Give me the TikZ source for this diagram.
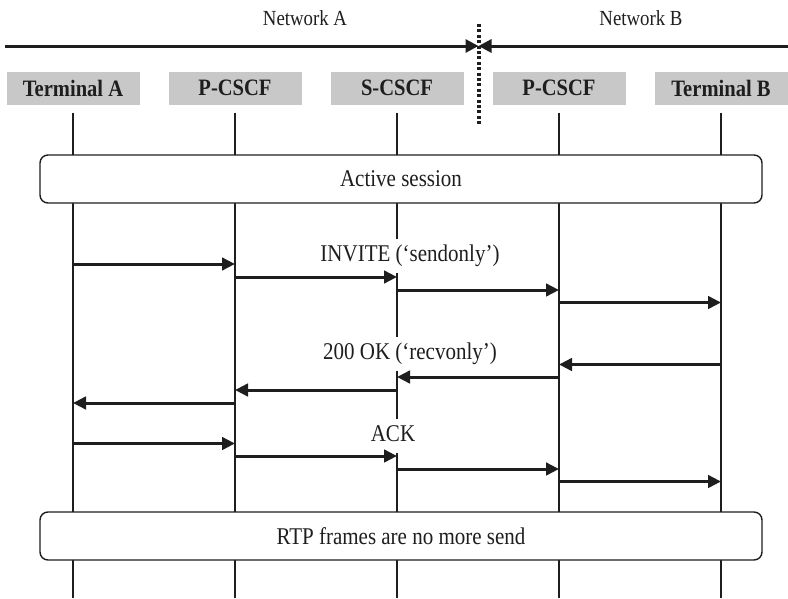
\documentclass[tikz,border=0pt]{standalone}
\usepackage{fontspec}
\setmainfont{Liberation Serif}[FakeStretch=0.875]
\usetikzlibrary{arrows.meta}
\definecolor{hdrgray}{RGB}{200,200,200}
\definecolor{inkc}{RGB}{30,30,30}
\tikzset{
  hdr/.style={fill=hdrgray, minimum width=133pt, minimum height=33pt, inner sep=0pt,
    font=\fontsize{23.5}{26}\selectfont\bfseries, text=inkc},
  life/.style={line width=1.4pt, draw=inkc},
  msg/.style={line width=3pt, draw=inkc, -{Triangle[length=13pt,width=12.5pt]}},
  topline/.style={line width=3pt, draw=inkc, -{Triangle[length=13pt,width=13pt]}},
  phase/.style={draw=inkc, line width=1.4pt, fill=white, rounded corners=8pt,
    minimum width=722pt, minimum height=48pt, inner sep=0pt,
    font=\fontsize{24}{26}\selectfont, text=inkc},
  msglabel/.style={fill=white, inner sep=0pt, text height=16pt, text depth=5pt,
    minimum height=34pt, font=\fontsize{24}{26}\selectfont, text=inkc},
  netlabel/.style={inner sep=0pt, font=\fontsize{21.5}{24}\selectfont, text=inkc}
}
\begin{document}
\begin{tikzpicture}[x=1pt,y=-1pt]
\useasboundingbox (0,0) rectangle (788,598);

% network labels and divider
\node[netlabel] (netA) at (305,18) {Network A};
\node[netlabel] (netB) at (641,18) {Network B};
\coordinate (lend) at (5,46);
\coordinate (rend) at (788,46);
\coordinate (mid) at (478.5,46);
\draw[topline] (lend) -- (mid);
\draw[topline] (rend) -- (mid);
\coordinate (dtop) at (479,24);
\coordinate (dbot) at (479,124);
\draw[line width=3.5pt, draw=inkc, dash pattern=on 3pt off 2.4pt] (dtop) -- (dbot);

% headers
\node[hdr] (ta) at (73,88) {Terminal A};
\node[hdr] (pa) at (235,88) {P-CSCF};
\node[hdr] (sa) at (397,88) {S-CSCF};
\node[hdr] (pb) at (559,88) {P-CSCF};
\node[hdr] (tb) at (721,88) {Terminal B};

% lifelines
\foreach \n in {ta,pa,sa,pb,tb} {
  \draw[life] ([yshift=-8pt]\n.south) -- (\n |- 0,598);
}

% phase boxes
\node[phase] (act) at (401,179) {Active session};
\node[phase] (rtp) at (401,536) {RTP frames are no more send};

% labels
\node[msglabel] (linv) at (410,256) {INVITE (‘sendonly’)};
\node[msglabel] (lok) at (410,354) {200 OK (‘recvonly’)};
\node[msglabel] (lack) at (393,436) {ACK};

% INVITE
\draw[msg] (ta |- 0,264) -- (pa |- 0,264);
\draw[msg] (pa |- 0,277) -- (sa |- 0,277);
\draw[msg] (sa |- 0,290) -- (pb |- 0,290);
\draw[msg] (pb |- 0,302.5) -- (tb |- 0,302.5);

% 200 OK
\draw[msg] (tb |- 0,364.5) -- (pb |- 0,364.5);
\draw[msg] (pb |- 0,377) -- (sa |- 0,377);
\draw[msg] (sa |- 0,390) -- (pa |- 0,390);
\draw[msg] (pa |- 0,403) -- (ta |- 0,403);

% ACK
\draw[msg] (ta |- 0,443.5) -- (pa |- 0,443.5);
\draw[msg] (pa |- 0,456) -- (sa |- 0,456);
\draw[msg] (sa |- 0,469) -- (pb |- 0,469);
\draw[msg] (pb |- 0,481.5) -- (tb |- 0,481.5);
\end{tikzpicture}
\end{document}
